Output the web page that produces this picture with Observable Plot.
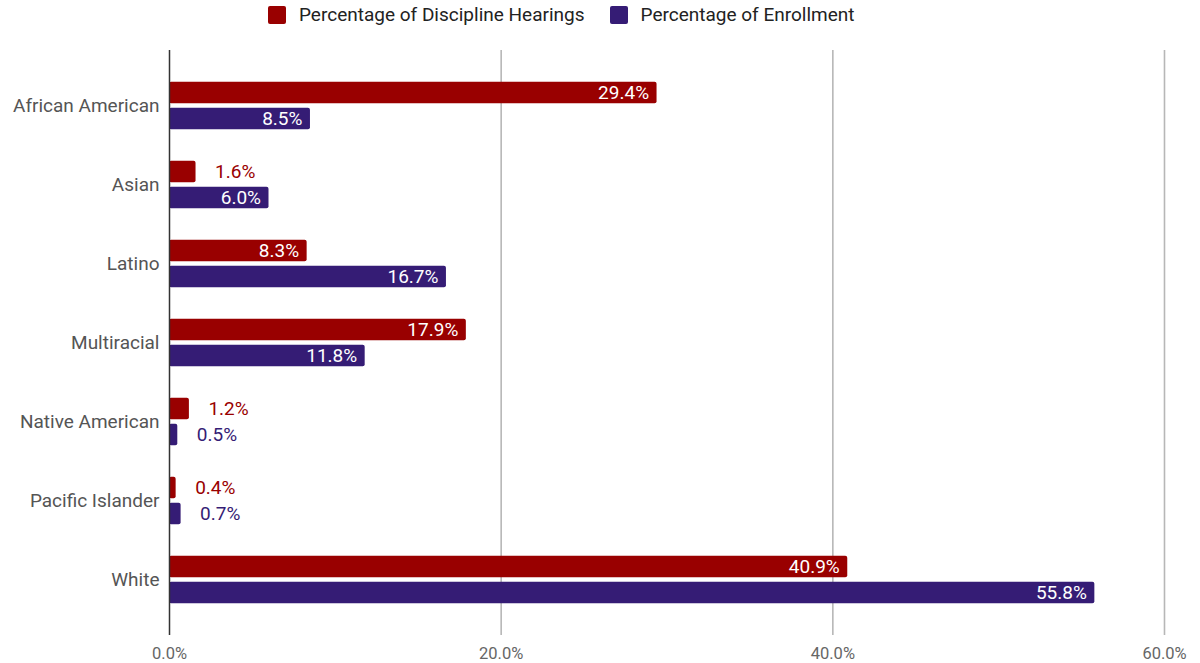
<!DOCTYPE html>
<html>
<head>
<meta charset="utf-8">
<script src="https://cdn.jsdelivr.net/npm/d3@7"></script>
<script src="https://cdn.jsdelivr.net/npm/@observablehq/plot@0.6"></script>
<style>
  html, body { margin: 0; padding: 0; background: #fff; }
  body { width: 1200px; height: 663px; position: relative; overflow: hidden; font-family: Roboto, sans-serif; }
  #legend { position: absolute; top: 3px; left: 268px; display: flex; align-items: center; font-size: 19px; color: #222; z-index: 2; }
  .item { display: flex; align-items: center; margin-right: 25px; }
  .sw { width: 18px; height: 18px; border-radius: 2px; margin-right: 13px; }
  #chart { position: absolute; top: 0; left: 0; }
</style>
</head>
<body>
<div id="legend"></div>
<div id="chart"></div>
<script>
const categories = ["African American", "Asian", "Latino", "Multiracial", "Native American", "Pacific Islander", "White"];
const hearings = [29.4, 1.6, 8.3, 17.9, 1.2, 0.4, 40.9];
const enrollment = [8.5, 6.0, 16.7, 11.8, 0.5, 0.7, 55.8];
const seriesNames = ["Percentage of Discipline Hearings", "Percentage of Enrollment"];
const seriesColors = ["#990000", "#351c75"];
const xTicks = [0, 20, 40, 60];

const rows = [];
categories.forEach((c, i) => {
  rows.push({cat: c, series: seriesNames[0], value: hearings[i], k: 0});
  rows.push({cat: c, series: seriesNames[1], value: enrollment[i], k: 1});
});

// legend
const legend = document.getElementById("legend");
seriesNames.forEach((s, i) => {
  const it = document.createElement("div");
  it.className = "item";
  it.innerHTML = `<div class="sw" style="background:${seriesColors[i]}"></div><span>${s}</span>`;
  legend.appendChild(it);
});

const W = 1200, H = 663, mTop = 50, mBottom = 28;
const padOuter = 0.18;
const step = (H - mTop - mBottom) / (categories.length + 2 * padOuter);
const barH = 22, off = 13;
const inset = (step - barH) / 2;
const fmt = d => d.toFixed(1) + "%";

const marks = [];
marks.push(Plot.ruleX(xTicks.slice(1), {stroke: "#b7b7b7", strokeWidth: 1.6}));
[0, 1].forEach(k => {
  const d = rows.filter(r => r.k === k);
  const dy = k === 0 ? -off : off;
  marks.push(Plot.barX(d, {x1: 0, x2: "value", y: "cat", fill: seriesColors[k], dy, insetTop: inset, insetBottom: inset, rx: 2}));
  marks.push(Plot.text(d.filter(r => r.value >= 5), {x: "value", y: "cat", text: r => fmt(r.value), dy, dx: -8, textAnchor: "end", fill: "white", fontSize: 19}));
  marks.push(Plot.text(d.filter(r => r.value < 5), {x: "value", y: "cat", text: r => fmt(r.value), dy, dx: 19, textAnchor: "start", fill: seriesColors[k], stroke: "white", strokeWidth: 3, fontSize: 19}));
});
marks.push(Plot.ruleX([0], {stroke: "#333", strokeWidth: 1.5}));

const chart = Plot.plot({
  width: W,
  height: H,
  marginTop: mTop,
  marginBottom: mBottom,
  marginLeft: 169,
  marginRight: 36,
  style: {fontFamily: "Roboto, sans-serif", background: "white"},
  x: {domain: [0, 60], label: null},
  y: {domain: categories, paddingInner: 0, paddingOuter: padOuter, label: null},
  marks: [
    ...marks,
    Plot.axisX({ticks: xTicks, tickFormat: fmt, tickSize: 0, tickPadding: 12, fontSize: 16.5, color: "#666", label: null}),
    Plot.axisY({tickSize: 0, tickPadding: 10, fontSize: 19, color: "#555", label: null})
  ]
});
document.getElementById("chart").appendChild(chart);
</script>
</body>
</html>
